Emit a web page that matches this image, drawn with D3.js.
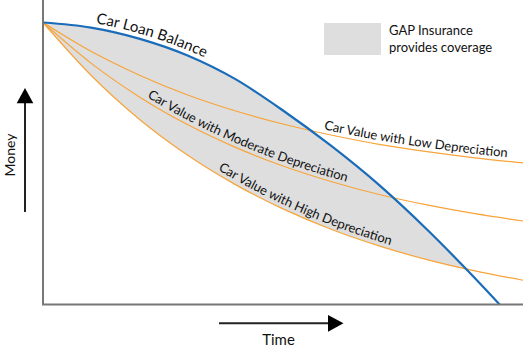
<!DOCTYPE html>
<html>
<head>
<meta charset="utf-8">
<script src="https://cdn.jsdelivr.net/npm/d3@7"></script>
<style>
  body { margin: 0; background: #fff; }
  svg { display: block; font-family: Lato, "Open Sans", sans-serif; }
</style>
</head>
<body>
<div id="chart"></div>
<script>
// values (money as % of the starting value)
const years = [0, 1, 2, 3, 4, 5, 6, 7, 8, 9, 10];
const loanBalance = [100, 98.2, 94.3, 88.4, 80.0, 68.8, 56.3, 42.4, 26.6, 9.3, -9.0];
const lowDepreciation = [100, 89.8, 81.4, 74.4, 68.7, 64.0, 60.1, 56.8, 54.2, 52.0, 50.2];
const moderateDepreciation = [100, 85.6, 73.7, 63.9, 55.8, 49.1, 43.6, 39.0, 35.3, 32.2, 29.6];
const highDepreciation = [100, 81.3, 65.8, 53.1, 42.6, 33.9, 26.7, 20.8, 15.9, 11.9, 8.6];

const curveNames = ['Car Loan Balance', 'Car Value with Low Depreciation',
  'Car Value with Moderate Depreciation', 'Car Value with High Depreciation'];
const labelStartYears = [1.08, 5.83, 2.12, 3.6];
const legendLines = ['GAP Insurance', 'provides coverage'];
const axisNames = ['Time', 'Money'];

const width = 523, height = 359;
const plot = { left: 43, right: 523, top: 22.5, bottom: 304.5 };

const svg = d3.select('#chart').append('svg')
    .attr('width', width)
    .attr('height', height);

const x = d3.scaleLinear().domain([0, 10]).range([plot.left, plot.right]);
const y = d3.scaleLinear().domain([0, 100]).range([plot.bottom, plot.top]);

const series = [loanBalance, lowDepreciation, moderateDepreciation, highDepreciation]
    .map(vals => years.map((t, i) => ({ t, v: vals[i] })));

const line = d3.line()
    .x(d => x(d.t))
    .y(d => y(d.v))
    .curve(d3.curveMonotoneX);

const defs = svg.append('defs');

// plot area clip
defs.append('clipPath').attr('id', 'plot-clip')
  .append('rect')
    .attr('x', plot.left).attr('y', 0)
    .attr('width', plot.right - plot.left)
    .attr('height', plot.bottom);

// everything below the loan balance curve
defs.append('clipPath').attr('id', 'under-loan')
  .append('path')
    .attr('d', d3.area()
        .x(d => x(d.t))
        .y0(height)
        .y1(d => y(d.v))
        .curve(d3.curveMonotoneX)(series[0]));

const g = svg.append('g').attr('clip-path', 'url(#plot-clip)');

// gap between loan balance and high depreciation value
const gap = years.map((t, i) => ({ t, top: loanBalance[i], bottom: highDepreciation[i] }));
g.append('g').attr('clip-path', 'url(#under-loan)')
  .append('path')
    .attr('d', d3.area()
        .x(d => x(d.t))
        .y0(d => y(d.bottom))
        .y1(d => y(d.top))
        .curve(d3.curveMonotoneX)(gap))
    .attr('fill', '#dedede');

// car value curves
g.selectAll('.value-line')
    .data(series.slice(1))
    .enter()
    .append('path')
    .attr('class', 'value-line')
    .attr('id', (d, i) => 'curve-' + (i + 1))
    .attr('d', line)
    .attr('fill', 'none')
    .attr('stroke', '#f7a43a')
    .attr('stroke-width', 1.2);

// loan balance
g.append('path')
    .attr('id', 'curve-0')
    .attr('d', line(series[0]))
    .attr('fill', 'none')
    .attr('stroke', '#1b6cb8')
    .attr('stroke-width', 2.2);

// axes lines (no ticks)
svg.append('path')
    .attr('d', d3.line()([[plot.left, 0], [plot.left, plot.bottom], [plot.right, plot.bottom]]))
    .attr('fill', 'none')
    .attr('stroke', '#777')
    .attr('stroke-width', 2);

// labels along the curves
function lengthAtX(node, px) {
    let lo = 0, hi = node.getTotalLength();
    for (let k = 0; k < 30; k++) {
        const mid = (lo + hi) / 2;
        if (node.getPointAtLength(mid).x < px) lo = mid; else hi = mid;
    }
    return lo;
}

curveNames.forEach((name, i) => {
    const node = document.getElementById('curve-' + i);
    svg.append('text')
        .attr('dy', i === 0 ? -5 : -4)
        .style('font-size', i === 0 ? '15px' : '13px')
        .attr('fill', '#111')
      .append('textPath')
        .attr('href', '#curve-' + i)
        .attr('startOffset', lengthAtX(node, x(labelStartYears[i])))
        .text(name);
});

// legend
svg.append('rect')
    .attr('x', 324).attr('y', 23)
    .attr('width', 57).attr('height', 32)
    .attr('fill', '#dedede');

svg.selectAll('.legend-text')
    .data(legendLines)
    .enter()
    .append('text')
    .attr('class', 'legend-text')
    .attr('x', 389)
    .attr('y', (d, i) => 35 + i * 16.5)
    .attr('fill', '#111')
    .style('font-size', '13px')
    .text(d => d);

// Time arrow
svg.append('line')
    .attr('x1', 219).attr('y1', 323.3)
    .attr('x2', 330).attr('y2', 323.3)
    .attr('stroke', '#222').attr('stroke-width', 2);
svg.append('path')
    .attr('d', 'M328,315 L343.5,323.3 L328,331.7 Z')
    .attr('fill', '#000');
svg.append('text')
    .attr('x', 278.5).attr('y', 345)
    .attr('text-anchor', 'middle')
    .attr('fill', '#111')
    .style('font-size', '15px')
    .text(axisNames[0]);

// Money arrow
svg.append('line')
    .attr('x1', 25).attr('y1', 212)
    .attr('x2', 25).attr('y2', 101)
    .attr('stroke', '#222').attr('stroke-width', 2);
svg.append('path')
    .attr('d', 'M16.7,103.3 L25,88 L33.3,103.3 Z')
    .attr('fill', '#000');
svg.append('text')
    .attr('transform', 'translate(15,155) rotate(-90)')
    .attr('text-anchor', 'middle')
    .attr('fill', '#111')
    .style('font-size', '14px')
    .text(axisNames[1]);
</script>
</body>
</html>
